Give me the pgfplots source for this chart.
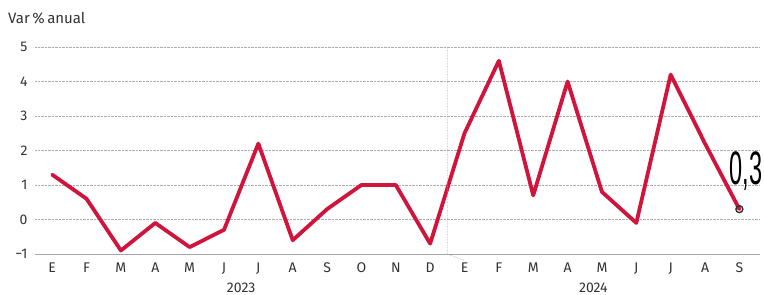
\documentclass[border=0pt]{standalone}
\usepackage{pgfplots}
\pgfplotsset{compat=1.18}
\usetikzlibrary{calc}
\usepackage{fontspec}
\setmainfont{Fira Sans}
\newfontfamily\condfont{Liberation Sans}
\definecolor{linered}{HTML}{D0143C}
\definecolor{txt}{HTML}{333333}
\begin{document}
\begin{tikzpicture}
\begin{axis}[
  at={(0,0)}, anchor=south west,
  scale only axis, width=725pt, height=207pt,
  xmin=-0.5, xmax=20.6, ymin=-1, ymax=5,
  clip=false,
  xtick={0,...,20},
  xticklabels={E,F,M,A,M,J,J,A,S,O,N,D,E,F,M,A,M,J,J,A,S},
  ytick={-1,0,1,2,3,4,5},
  yticklabels={−1,0,1,2,3,4,5},
  axis x line*=bottom, axis y line*=left,
  y axis line style={draw=none},
  x axis line style={draw=gray!70, line width=0.8pt},
  major tick length=0pt,
  ymajorgrids,
  grid style={densely dotted, gray!65, line width=0.5pt},
  tick label style={font=\fontsize{14}{16}\selectfont, text=txt},
  xticklabel style={yshift=-5pt},
  yticklabel style={xshift=-4pt},
]
\addplot[linered, line width=3.8pt, line join=round, line cap=round] coordinates {
(0,1.3) (1,0.6) (2,-0.9) (3,-0.1) (4,-0.8) (5,-0.3) (6,2.2) (7,-0.6) (8,0.3) (9,1.0) (10,1.0) (11,-0.7)
(12,2.5) (13,4.6) (14,0.7) (15,4.0) (16,0.8) (17,-0.1) (18,4.2) (19,2.2) (20,0.3)
};
\addplot[only marks, mark=o, mark size=3.5pt, mark options={draw=txt, fill=white, line width=1.4pt}] coordinates {(20,0.3)};
\draw[densely dotted, gray!65, line width=0.6pt] (axis cs:11.5,5) -- (axis cs:11.5,-1) -- ++(0,-41pt);
\node[font=\fontsize{14}{16}\selectfont, text=txt] at (axis cs:5.5,-1) [yshift=-34pt] {2023};
\node[font=\fontsize{14}{16}\selectfont, text=txt] at (axis cs:15.75,-1) [yshift=-34pt] {2024};
\node[anchor=base west, inner sep=0pt, text=black, font=\condfont\fontsize{47}{47}\selectfont] at (axis cs:20,0.3) [xshift=-10pt, yshift=25pt] {\scalebox{0.5}[1]{0,3}};
\end{axis}
\node[anchor=west, font=\fontsize{15}{17}\selectfont, text=txt, inner sep=0pt] at ($(current axis.north west)+(-27pt,29pt)$) {Var\,\%\,anual};
\pgfresetboundingbox
\path[use as bounding box] ($(current axis.south west)+(-35pt,-41pt)$) rectangle ($(current axis.north east)+(4pt,47pt)$);
\end{tikzpicture}
\end{document}
